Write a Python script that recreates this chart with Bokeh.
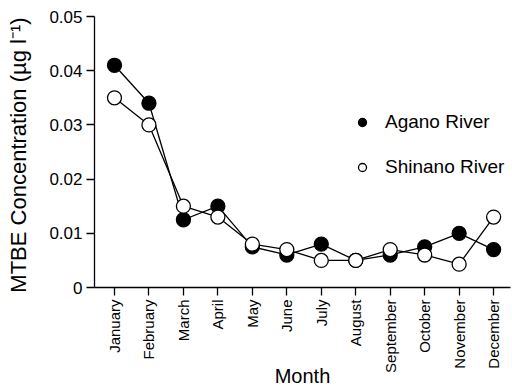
from bokeh.plotting import figure
from bokeh.models import FixedTicker, Range1d, Legend, LegendItem
from bokeh.embed import file_html
from bokeh.resources import INLINE

months = ["January", "February", "March", "April", "May", "June", "July",
          "August", "September", "October", "November", "December"]
agano = [0.041, 0.034, 0.0125, 0.015, 0.0075, 0.006, 0.008, 0.005, 0.006, 0.0075, 0.010, 0.007]
shinano = [0.035, 0.030, 0.015, 0.013, 0.008, 0.007, 0.005, 0.005, 0.007, 0.006, 0.0043, 0.013]
y_ticks = [0, 0.01, 0.02, 0.03, 0.04, 0.05]
y_tick_labels = ["0", "0.01", "0.02", "0.03", "0.04", "0.05"]

xs = list(range(1, len(months) + 1))
FONT = "Liberation Sans"

p = figure(width=512, height=390, output_backend="svg", toolbar_location=None,
           x_range=Range1d(0.42, 12.49), y_range=Range1d(0, 0.05),
           min_border_left=94, min_border_right=2, min_border_top=16, min_border_bottom=103)
p.outline_line_color = None
p.xgrid.visible = False
p.ygrid.visible = False
p.background_fill_color = "white"
p.border_fill_color = "white"

p.line(xs, agano, line_color="black", line_width=1.3)
p.line(xs, shinano, line_color="black", line_width=1.3)
ra = p.scatter(xs, agano, size=14, fill_color="black", line_color="black", line_width=1.3)
rs = p.scatter(xs, shinano, size=14, fill_color="white", line_color="black", line_width=1.3)

# axes
p.xaxis.ticker = FixedTicker(ticks=xs)
p.xaxis.major_label_overrides = {i: m for i, m in zip(xs, months)}
p.xaxis.major_label_orientation = 1.5708
p.xaxis.major_label_text_font = FONT
p.xaxis.major_label_text_font_size = "15px"
p.xaxis.major_label_text_color = "black"
p.xaxis.axis_label = "Month"
p.xaxis.axis_label_text_font = FONT
p.xaxis.axis_label_text_font_style = "normal"
p.xaxis.axis_label_text_font_size = "20px"
p.xaxis.axis_label_text_color = "black"
p.xaxis.axis_label_standoff = -11
p.xaxis.major_label_standoff = 4

p.yaxis.ticker = FixedTicker(ticks=y_ticks)
p.yaxis.major_label_overrides = {t: l for t, l in zip(y_ticks, y_tick_labels)}
p.yaxis.major_label_text_font = FONT
p.yaxis.major_label_text_font_size = "17px"
p.yaxis.major_label_text_color = "black"
p.yaxis.axis_label = "MTBE Concentration  (µg l⁻¹)"
p.yaxis.axis_label_text_font = FONT
p.yaxis.axis_label_text_font_style = "normal"
p.yaxis.axis_label_text_font_size = "22px"
p.yaxis.axis_label_text_color = "black"
p.yaxis.axis_label_standoff = 15
p.yaxis.major_label_standoff = 4

for ax in (p.xaxis, p.yaxis):
    ax.axis_line_color = "black"
    ax.axis_line_width = 1.3
    ax.major_tick_line_color = "black"
    ax.major_tick_line_width = 1.3
    ax.major_tick_out = 8
    ax.major_tick_in = 0
    ax.minor_tick_line_color = None

legend = Legend(items=[LegendItem(label="Agano River", renderers=[ra]),
                       LegendItem(label="Shinano River", renderers=[rs])],
                location=(258, 109), orientation="vertical",
                label_text_font=FONT, label_text_font_size="19px",
                label_text_color="black",
                glyph_width=20, glyph_height=20, spacing=23, label_standoff=13,
                padding=0, margin=0, border_line_color=None, background_fill_alpha=0)
p.add_layout(legend)

open("out.html", "w").write(file_html(p, INLINE))
